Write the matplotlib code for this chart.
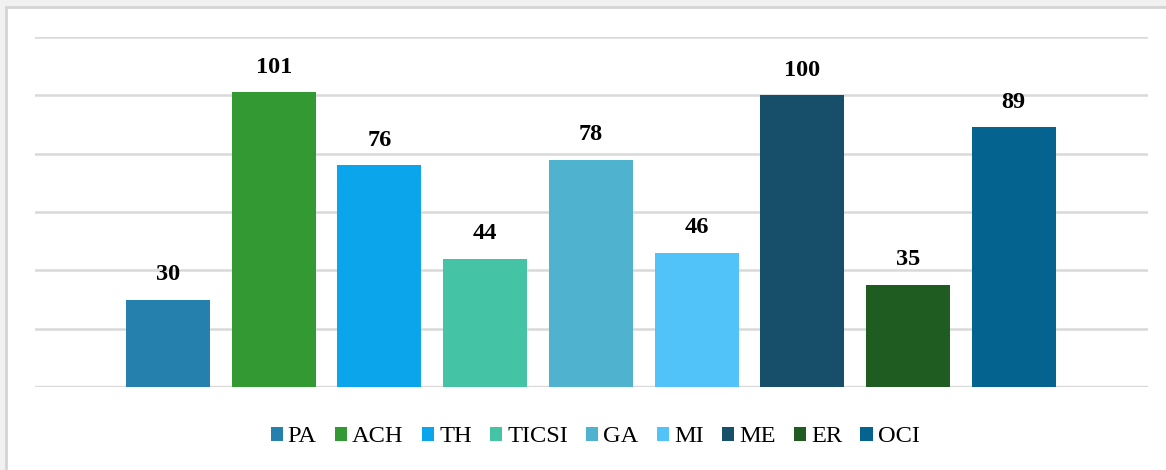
import matplotlib
matplotlib.use("Agg")
import matplotlib.pyplot as plt
from matplotlib.patches import Rectangle, Patch

categories = ["PA", "ACH", "TH", "TICSI", "GA", "MI", "ME", "ER", "OCI"]
values = [30, 101, 76, 44, 78, 46, 100, 35, 89]
colors = ["#2680ad", "#339933", "#0ba5ec", "#44c4a4", "#4fb3d0",
          "#52c3f8", "#174f6a", "#1f5c21", "#05648f"]
grid_ticks = [0, 20, 40, 60, 80, 100, 120]

plt.rcParams["font.family"] = ["Liberation Serif", "DejaVu Serif"]

fig = plt.figure(figsize=(11.66, 4.70), dpi=100)
fig.patch.set_facecolor("#f1f1f1")
# white chart panel with light grey frame
fig.patches.append(Rectangle((6 / 1166, -0.05), 1.1, 1 - 7 / 470 + 0.05,
                             transform=fig.transFigure, facecolor="white",
                             edgecolor="#d4d4d4", linewidth=2, zorder=-1))

ax = fig.add_axes([35 / 1166, 1 - 387 / 470, (1148 - 35) / 1166, (387 - 37) / 470])
ax.set_zorder(1)
ax.set_facecolor("none")

x = list(range(len(categories)))
ax.bar(x, values, width=0.795, color=colors, zorder=3)
for xi, v in zip(x, values):
    ax.text(xi, v + 5, str(v), ha="center", va="bottom", fontsize=17.5,
            fontweight="bold", color="black", zorder=4)

for t in grid_ticks:
    ax.axhline(t, color="#d9d9d9", linewidth=1.8 if t else 2.4, zorder=1)

ax.set_xlim(-1.258, 9.27)
ax.set_ylim(0, 120)
ax.set_xticks([])
ax.set_yticks([])
for s in ax.spines.values():
    s.set_visible(False)

handles = [Patch(facecolor=c, edgecolor="none") for c in colors]
leg = fig.legend(handles, categories, loc="center", bbox_to_anchor=(595 / 1166, 1 - 437 / 470),
                 ncol=len(categories), frameon=False, fontsize=17.6,
                 handlelength=0.5, handleheight=0.5, handletextpad=0.2,
                 columnspacing=0.75)
leg.set_zorder(2)

fig.savefig("out.png", dpi=100, facecolor=fig.get_facecolor())
